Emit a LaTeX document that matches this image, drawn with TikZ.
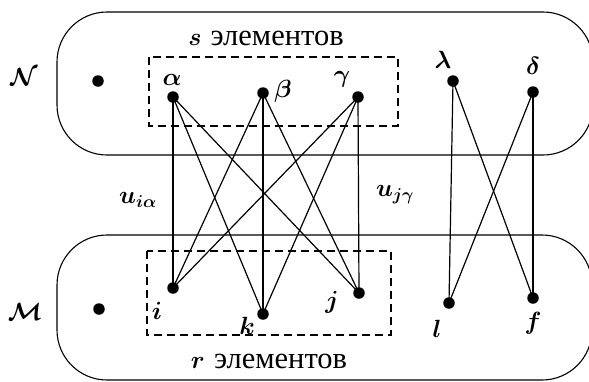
\documentclass[tikz,border=0pt]{standalone}
\usepackage{fontspec}
\newfontfamily\cyrfont{Liberation Serif}
\begin{document}
\begin{tikzpicture}[x=1pt,y=-1pt,
  dot/.style={circle,fill=black,inner sep=0pt,minimum size=11.5pt},
  region/.style={draw=black,line width=1.1pt,rounded corners=50pt},
  group/.style={draw=black,line width=1.1pt,dash pattern=on 8pt off 5pt},
  edge/.style={draw=black,line width=1.2pt},
  lbl/.style={inner sep=0pt,font=\fontsize{25}{29}\selectfont\boldmath},
  captext/.style={inner sep=0pt,font=\fontsize{30.5}{33}\selectfont}]
\useasboundingbox (0,0) rectangle (589,381);
\clip (0,0) rectangle (589,381);
% regions
\draw[region] (57,12) rectangle (593,155);
\draw[region] (57,235) rectangle (592,380);
% dashed groups
\draw[group] (149,57) rectangle (398,126);
\draw[group] (147,251) rectangle (391,335);
% dots
\node[dot] (n0) at (98,81) {};
\node[dot] (a) at (173,97) {};
\node[dot] (b) at (263,93) {};
\node[dot] (g) at (358,97) {};
\node[dot] (la) at (453,81) {};
\node[dot] (d) at (533,92) {};
\node[dot] (m0) at (99,309) {};
\node[dot] (i) at (173,288) {};
\node[dot] (k) at (263,314) {};
\node[dot] (j) at (359,293) {};
\node[dot] (l) at (449,303) {};
\node[dot] (f) at (533,298) {};
% edges
\foreach \s in {a,b,g}{\foreach \t in {i,k,j}{\draw[edge] (\s.center) -- (\t.center);}}
\draw[edge] (la.center) -- (l.center);
\draw[edge] (la.center) -- (f.center);
\draw[edge] (d.center) -- (l.center);
\draw[edge] (d.center) -- (f.center);
% labels
\node[lbl] (lN) at (24,77) {$\mathcal{N}$};
\node[lbl] (lM) at (25,312) {$\mathcal{M}$};
\node[lbl] (la1) at (172,80) {$\alpha$};
\node[lbl] (lb1) at (283,91) {$\beta$};
\node[lbl] (lg1) at (342,79) {$\gamma$};
\node[lbl] (ll1) at (443,60) {$\lambda$};
\node[lbl] (ld1) at (533,66) {$\delta$};
\node[lbl] (li1) at (157,311) {$i$};
\node[lbl] (lk1) at (247,326) {$k$};
\node[lbl] (lj1) at (332,302) {$j$};
\node[lbl] (ll2) at (437,329) {$l$};
\node[lbl] (lf1) at (533,323) {$f$};
\node[lbl] (uia) at (138,200) {$u_{i\alpha}$};
\node[lbl] (ujg) at (395,195) {$u_{j\gamma}$};
\node[captext,anchor=base] (ts) at (266,45) {{\boldmath$s$}\ {\cyrfont элементов}};
\node[captext,anchor=base] (tr) at (269,368) {{\boldmath$r$}\ {\cyrfont элементов}};
\end{tikzpicture}
\end{document}
